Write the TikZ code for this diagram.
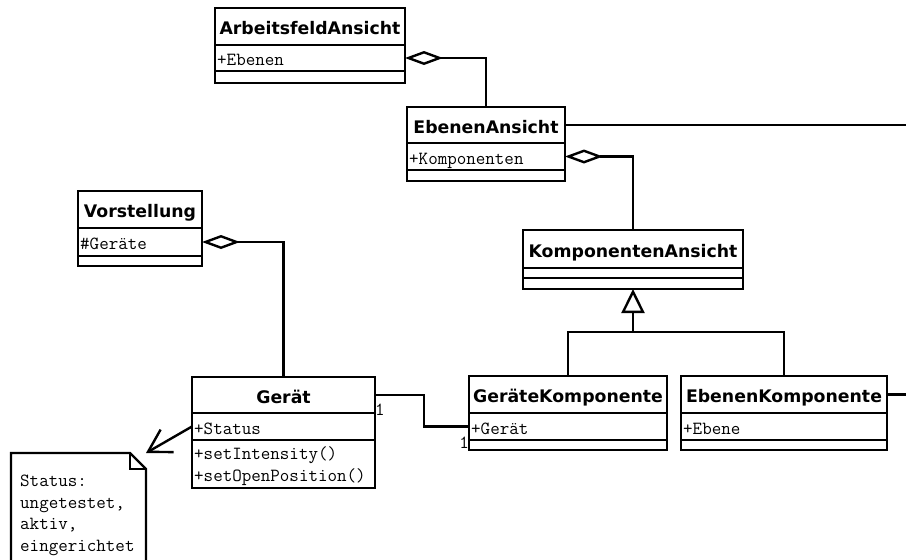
\documentclass[tikz,border=0pt]{standalone}
\usepackage{fontspec}
\newfontfamily\titlefont{DejaVu Sans}
\usetikzlibrary{arrows.meta,calc}

% UML class box: name, left, top, right, first rule, second rule, bottom, title
\newcommand\umlclass[8]{%
  \node[classbox, anchor=north west, minimum width={#4-#2}, minimum height={#7-#3}] (#1) at (#2,#3) {};
  \draw[conn] (#2,#5) -- (#4,#5);
  \draw[conn] (#2,#6) -- (#4,#6);
  \coordinate (#1-t) at ({(#2+#4)/2},{(#3+#5)/2});
  \coordinate (#1-a) at (#2,{(#5+#6)/2});
  \node[ttl, anchor=base] (#1-name) at ([yshift=-8pt]#1-t) {#8};
}

\begin{document}
\begin{tikzpicture}[x=1pt, y=-1pt,
  conn/.style={line width=2.4pt, line join=miter},
  classbox/.style={draw, line width=2.4pt, fill=white, inner sep=0pt, outer sep=0pt},
  ttl/.style={font=\titlefont\bfseries\fontsize{17.3}{20}\selectfont, inner sep=0pt},
  attr/.style={font=\ttfamily\fontsize{18.5}{21.5}\selectfont, inner sep=0pt},
  lbl/.style={font=\ttfamily\fontsize{18.5}{20}\selectfont, inner sep=0pt},
  agg/.style={conn, -{Diamond[fill=white, length=38pt, width=14pt]}},
  inh/.style={conn, -{Triangle[fill=white, length=24pt, width=23pt]}},
  dep/.style={conn, -{Straight Barb[length=22pt, width=26pt]}}
]
\useasboundingbox (0,0) rectangle (906,560);

% classes
\umlclass{arb}{215}{8}{405}{45}{71}{83}{ArbeitsfeldAnsicht}
\node[attr, anchor=base west] (arb-at) at ([xshift=2pt, yshift=-7.5pt]arb-a) {+Ebenen};

\umlclass{eben}{407}{107}{565}{143}{170}{181}{EbenenAnsicht}
\node[attr, anchor=base west] (eben-at) at ([xshift=2pt, yshift=-7.5pt]eben-a) {+Komponenten};

\umlclass{komp}{523}{230}{743}{268}{278}{289}{KomponentenAnsicht}

\umlclass{vor}{78}{191}{202}{228}{256}{266}{Vorstellung}
\node[attr, anchor=base west] (vor-at) at ([xshift=2pt, yshift=-7.5pt]vor-a) {\#Geräte};

\umlclass{ger}{192}{377}{375}{413}{440}{488}{Gerät}
\node[attr, anchor=base west] (ger-at) at ([xshift=2pt, yshift=-7.5pt]ger-a) {+Status};
\node[attr, anchor=base west] (ger-op1) at (194,459) {+setIntensity()};
\node[attr, anchor=base west] (ger-op2) at (194,481) {+setOpenPosition()};

\umlclass{gk}{469}{376}{667}{413}{440}{450}{GeräteKomponente}
\node[attr, anchor=base west] (gk-at) at ([xshift=2pt, yshift=-7.5pt]gk-a) {+Gerät};

\umlclass{ek}{681}{376}{887}{413}{440}{450}{EbenenKomponente}
\node[attr, anchor=base west] (ek-at) at ([xshift=2pt, yshift=-7.5pt]ek-a) {+Ebene};

% note
\node[minimum width=135, minimum height=130, anchor=north west, inner sep=0pt, outer sep=0pt] (note) at (11,453) {};
\draw[conn] (note.north west) -- ([xshift=-16pt]note.north east) -- ([yshift=-16pt]note.north east)
  -- (note.south east) -- (note.south west) -- cycle;
\draw[conn] ([xshift=-16pt]note.north east) |- ([yshift=-16pt]note.north east);
\node[attr, anchor=north west, align=left] (note-txt) at (20,475) {Status:\\ungetestet,\\aktiv,\\eingerichtet};

% aggregations
\draw[agg] (eben.north) |- (arb.east |- arb-a);
\draw[agg] (komp.north) |- (eben.east |- eben-a);
\draw[agg] (ger.north) |- (vor.east |- vor-a);

% generalization
\coordinate (junc) at ($(komp.south)+(0,43)$);
\draw[conn] (gk.north) |- (junc) -| (ek.north);
\draw[inh] (junc) -- (komp.south);

% association Gerät -- GeräteKomponente
\draw[conn] (ger.east |- ger-t) -- ++(49,0) |- (gk.west |- gk-a);
\node[lbl, anchor=base west] (m1) at ([yshift=-20pt]ger.east |- ger-t) {1};
\node[lbl, anchor=base east] (m2) at ([yshift=-21.5pt]gk.west |- gk-a) {1};

% outgoing lines
\coordinate (eout1) at (910,125);
\coordinate (eout2) at (910,394.5);
\draw[conn] (eben.east |- eben-t) -- (eout1);
\draw[conn] (ek.east |- ek-t) -- (eout2);

% note dependency
\draw[dep] (ger.west |- ger-a) -- (note.north east);
\end{tikzpicture}
\end{document}
